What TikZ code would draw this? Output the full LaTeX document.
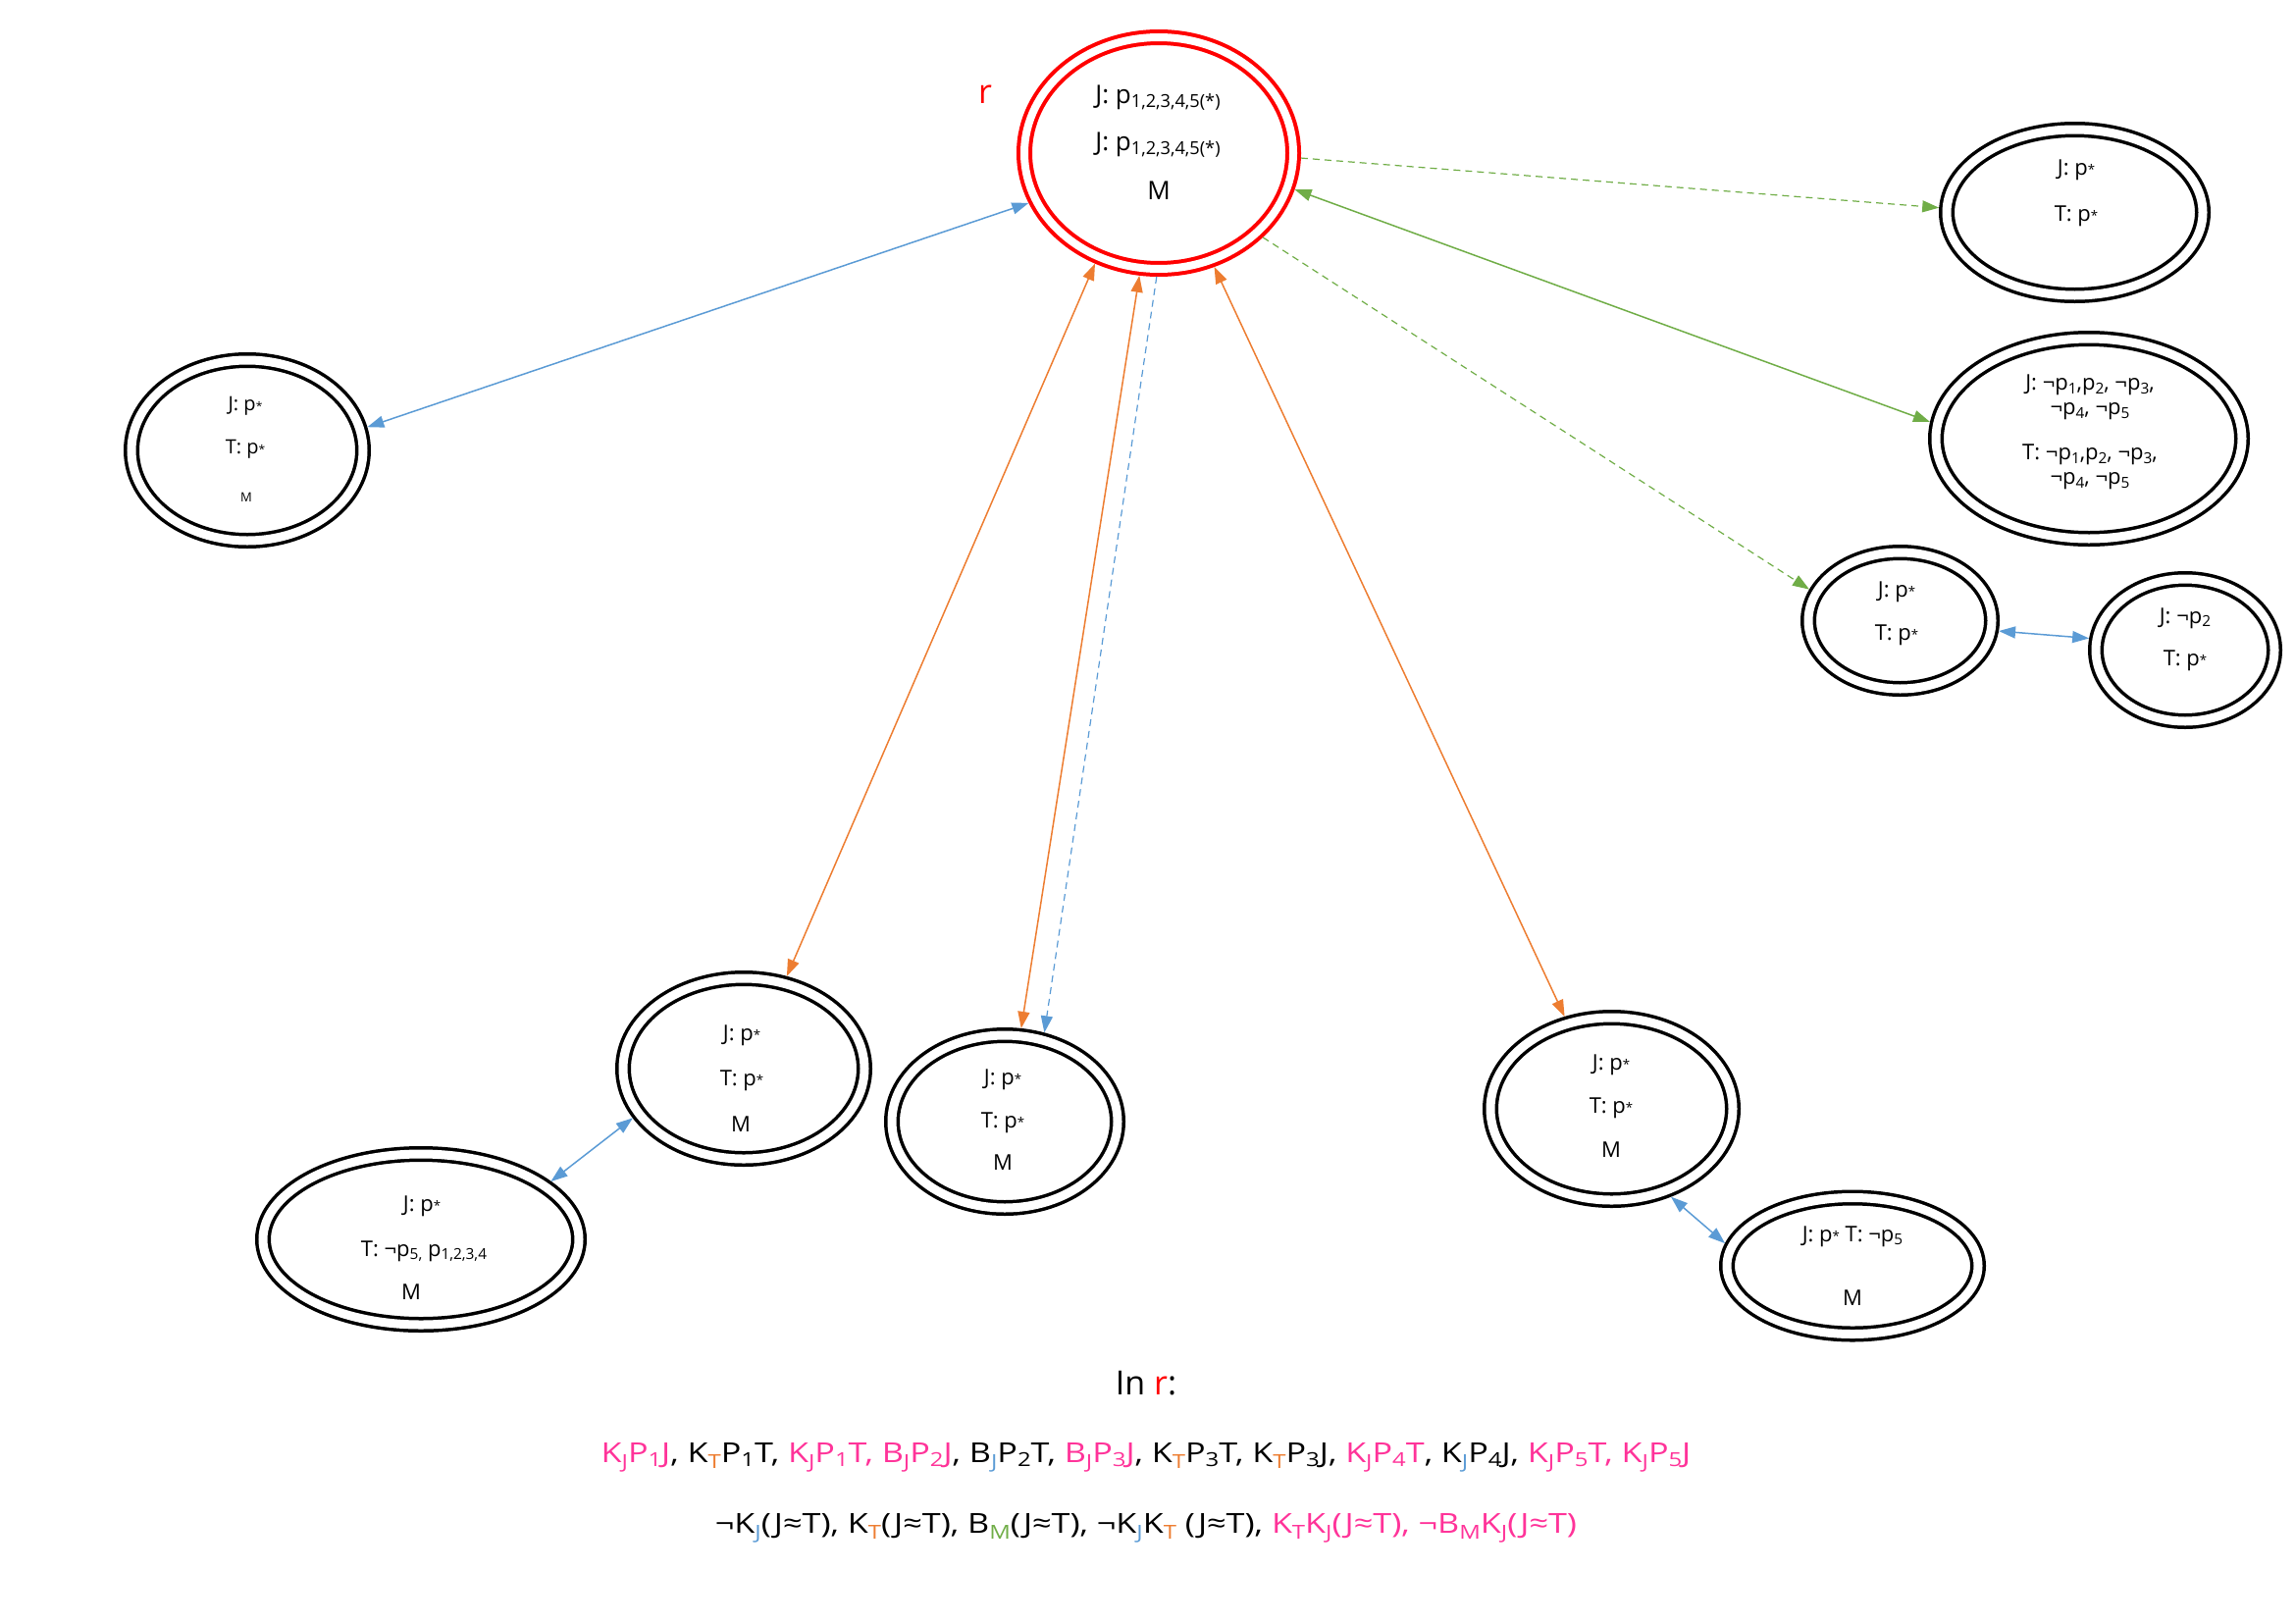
\documentclass[tikz,border=0pt]{standalone}
\usepackage{fontspec}
\setmainfont{Open Sans}
\usetikzlibrary{shapes.geometric,arrows.meta}
\definecolor{wred}{HTML}{FF0000}
\definecolor{wpink}{HTML}{FF3399}
\definecolor{worange}{HTML}{ED7D31}
\definecolor{wblue}{HTML}{5B9BD5}
\definecolor{wgreen}{HTML}{70AD47}
% small lowered index, as used for agents and proposition numbers
\newcommand\sbs[1]{\raisebox{-0.15em}{\scalebox{0.7}{#1}}}
% agent index in the fact lists, set a little lower
\newcommand\ag[1]{\raisebox{-0.22em}{\scalebox{0.7}{#1}}}
% p with a small star index
\newcommand\pst{p\raisebox{0.02em}{\scalebox{0.6}{*}}}
\begin{document}
\begin{tikzpicture}[x=1pt,y=-1pt,
  world/.style={ellipse, draw=black, line width=3.5pt, double=white,
    double distance=9pt, inner sep=0pt, outer sep=8pt},
  rworld/.style={world, draw=wred, line width=4pt, double distance=8pt},
  txt/.style={inner sep=0pt, font=\fontsize{22}{26}\selectfont, align=center},
  rtxt/.style={inner sep=0pt, font=\fontsize{26}{30}\selectfont},
  facts/.style={inner sep=0pt, font=\fontsize{28}{34}\selectfont},
  link/.style={line width=1.5pt},
  both/.style={link, arrows={Triangle[length=17pt,width=12pt]-Triangle[length=17pt,width=12pt]}},
  one/.style={link, arrows={-Triangle[length=17pt,width=12pt]}},
  dsh/.style={dash pattern=on 7pt off 5pt},
]
\useasboundingbox (0,0) rectangle (2339,1654);

% worlds
\node[rworld, minimum width=274, minimum height=236] (r) at (1181,156) {};
\node[world, minimum width=261, minimum height=169] (tr) at (2114.5,216.5) {};
\node[world, minimum width=312, minimum height=204] (rr) at (2129,447) {};
\node[world, minimum width=187, minimum height=139] (sl) at (1936.5,632.5) {};
\node[world, minimum width=182, minimum height=145] (sr) at (2227,662.5) {};
\node[world, minimum width=236, minimum height=184] (lw) at (252,459) {};
\node[world, minimum width=246, minimum height=184] (bul) at (758,1089) {};
\node[world, minimum width=322, minimum height=174] (bll) at (429,1263) {};
\node[world, minimum width=230, minimum height=176] (mb) at (1024,1143) {};
\node[world, minimum width=247, minimum height=186] (bru) at (1642.5,1130) {};
\node[world, minimum width=256, minimum height=139] (brl) at (1888,1290) {};

% actual world
\node[inner sep=0pt, text=wred, font=\fontsize{34}{40}\selectfont] (rl) at (1004,96) {r};
\node[rtxt] (r1) at (1180,100) {J: p\sbs{1,2,3,4,5(*)}};
\node[rtxt] (r2) at (1180,148) {J: p\sbs{1,2,3,4,5(*)}};
\node[rtxt] (r3) at (1181,194) {M};

% right-hand worlds
\node[txt] (tr1) at (2116,173) {J: \pst};
\node[txt] (tr2) at (2116,220) {T: \pst};
\node[txt, font=\fontsize{22}{25}\selectfont] (rr1) at (2130,405) {J: ¬p\sbs{1},p\sbs{2}, ¬p\sbs{3},\\¬p\sbs{4}, ¬p\sbs{5}};
\node[txt, font=\fontsize{22}{25}\selectfont] (rr2) at (2130,476) {T: ¬p\sbs{1},p\sbs{2}, ¬p\sbs{3},\\¬p\sbs{4}, ¬p\sbs{5}};
\node[txt] (sl1) at (1933,603) {J: \pst};
\node[txt] (sl2) at (1933,647) {T: \pst};
\node[txt] (sr1) at (2227,630) {J: ¬p\sbs{2}};
\node[txt] (sr2) at (2227,673) {T: \pst};

% left world
\node[txt, font=\fontsize{20}{24}\selectfont] (lw1) at (250,414) {J: \pst};
\node[txt, font=\fontsize{20}{24}\selectfont] (lw2) at (250,458) {T: \pst};
\node[txt, font=\fontsize{13}{16}\selectfont] (lw3) at (251,507) {M};

% lower worlds
\node[txt] (bul1) at (756,1055) {J: \pst};
\node[txt] (bul2) at (756,1101) {T: \pst};
\node[txt] (bul3) at (755,1146) {M};
\node[txt] (bll1) at (430,1229) {J: \pst};
\node[txt] (bll2) at (432,1275) {T: ¬p\sbs{5,} p\sbs{1,2,3,4}};
\node[txt] (bll3) at (419,1317) {M};
\node[txt] (mb1) at (1022,1100) {J: \pst};
\node[txt] (mb2) at (1022,1144) {T: \pst};
\node[txt] (mb3) at (1022,1185) {M};
\node[txt] (bru1) at (1642,1085) {J: \pst};
\node[txt] (bru2) at (1642,1129) {T: \pst};
\node[txt] (bru3) at (1642,1172) {M};
\node[txt] (brl1) at (1888,1260) {J: \pst{} T: ¬p\sbs{5}};
\node[txt] (brl2) at (1888,1323) {M};

% accessibility links
\draw[wblue, both] (r.201) -- (lw.11);
\draw[wgreen, one, dsh, line width=1.2pt] (r.358) -- (tr.178);
\draw[wgreen, both] (r.345) -- (rr.174);
\draw[wgreen, one, dsh, line width=1.2pt] (r.321) -- (sl.161);
\draw[wblue, both] (sl.354) -- (sr.173);
\draw[worange, both] (r.240) -- (bul.65);
\draw[worange, both] (r.261) -- (mb.80);
\draw[wblue, one, dsh, line width=1.2pt] (r.269) -- (mb.66);
\draw[worange, both] (r.296) -- (bru.117);
\draw[wblue, both] (bul.204) -- (bll.24);
\draw[wblue, both] (bru.304) -- (brl.170);

% facts holding in r
\node[inner sep=0pt, font=\fontsize{34}{40}\selectfont] (inr) at (1168,1410) {In {\color{wred}r}:};
\node[facts] (f1) at (1168,1485)
 {\scalebox{1.22}[1]{{\color{wpink}K\ag{J}P\sbs{1}J}, K\ag{\color{worange}T}P\sbs{1}T, {\color{wpink}K\ag{J}P\sbs{1}T, B\ag{J}P\sbs{2}J}, B\ag{\color{wblue}J}P\sbs{2}T, {\color{wpink}B\ag{J}P\sbs{3}J}, K\ag{\color{worange}T}P\sbs{3}T, K\ag{\color{worange}T}P\sbs{3}J, {\color{wpink}K\ag{J}P\sbs{4}T}, K\ag{\color{wblue}J}P\sbs{4}J, {\color{wpink}K\ag{J}P\sbs{5}T, K\ag{J}P\sbs{5}J}}};
\node[facts] (f2) at (1168,1557)
 {\scalebox{1.22}[1]{¬K\ag{\color{wblue}J}(J≈T), K\ag{\color{worange}T}(J≈T), B\ag{\color{wgreen}M}(J≈T), ¬K\ag{\color{wblue}J}K\ag{\color{worange}T} (J≈T), {\color{wpink}K\ag{T}K\ag{J}(J≈T), ¬B\ag{M}K\ag{J}(J≈T)}}};
\end{tikzpicture}
\end{document}
